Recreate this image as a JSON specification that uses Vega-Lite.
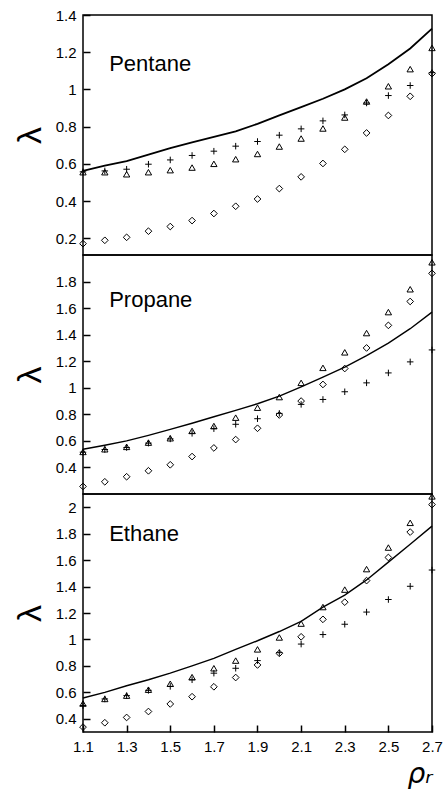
{
  "$schema": "https://vega.github.io/schema/vega-lite/v6.json",
  "autosize": {"type": "pad"},
  "padding": {"left": 12, "top": 7, "right": 0, "bottom": 0},
  "background": "white",
  "spacing": 0,
  "bounds": "flush",
  "config": {
    "view": {"stroke": "black", "strokeWidth": 1.5},
    "axis": {"domain": false, "grid": false, "ticks": true, "zindex": 2, "offset": -7, "tickColor": "#000000", "tickOpacity": 1, "tickSize": 7, "tickWidth": 1.5, "labelColor": "black", "labelFontSize": 15, "labelFont": "Liberation Sans", "labelPadding": 7, "labelFlush": false, "labelOverlap": false, "labelSeparation": 0, "titleColor": "black", "titleFont": "Liberation Sans", "titleFontWeight": "normal"},
    "axisY": {"titleFontSize": 34, "titlePadding": 8},
    "axisX": {"titleFontSize": 28, "titleFont": "DejaVu Sans", "titleFontStyle": "italic", "titleAnchor": "end", "titlePadding": 6}
  },
  "datasets": {
    "pentane": [
      {"series": "triangle", "rho": 1.1, "lambda": 0.555}, {"series": "triangle", "rho": 1.2, "lambda": 0.555}, {"series": "triangle", "rho": 1.3, "lambda": 0.544}, {"series": "triangle", "rho": 1.4, "lambda": 0.555}, {"series": "triangle", "rho": 1.5, "lambda": 0.566}, {"series": "triangle", "rho": 1.6, "lambda": 0.58}, {"series": "triangle", "rho": 1.7, "lambda": 0.6}, {"series": "triangle", "rho": 1.8, "lambda": 0.625}, {"series": "triangle", "rho": 1.9, "lambda": 0.653}, {"series": "triangle", "rho": 2.0, "lambda": 0.693}, {"series": "triangle", "rho": 2.1, "lambda": 0.736}, {"series": "triangle", "rho": 2.2, "lambda": 0.79}, {"series": "triangle", "rho": 2.3, "lambda": 0.849}, {"series": "triangle", "rho": 2.4, "lambda": 0.935}, {"series": "triangle", "rho": 2.5, "lambda": 1.017}, {"series": "triangle", "rho": 2.6, "lambda": 1.109}, {"series": "triangle", "rho": 2.7, "lambda": 1.223},
      {"series": "plus", "rho": 1.1, "lambda": 0.557}, {"series": "plus", "rho": 1.2, "lambda": 0.562}, {"series": "plus", "rho": 1.3, "lambda": 0.571}, {"series": "plus", "rho": 1.4, "lambda": 0.598}, {"series": "plus", "rho": 1.5, "lambda": 0.621}, {"series": "plus", "rho": 1.6, "lambda": 0.645}, {"series": "plus", "rho": 1.7, "lambda": 0.668}, {"series": "plus", "rho": 1.8, "lambda": 0.695}, {"series": "plus", "rho": 1.9, "lambda": 0.72}, {"series": "plus", "rho": 2.0, "lambda": 0.754}, {"series": "plus", "rho": 2.1, "lambda": 0.788}, {"series": "plus", "rho": 2.2, "lambda": 0.831}, {"series": "plus", "rho": 2.3, "lambda": 0.863}, {"series": "plus", "rho": 2.4, "lambda": 0.927}, {"series": "plus", "rho": 2.5, "lambda": 0.967}, {"series": "plus", "rho": 2.6, "lambda": 1.021}, {"series": "plus", "rho": 2.7, "lambda": 1.09},
      {"series": "diamond", "rho": 1.1, "lambda": 0.171}, {"series": "diamond", "rho": 1.2, "lambda": 0.189}, {"series": "diamond", "rho": 1.3, "lambda": 0.205}, {"series": "diamond", "rho": 1.4, "lambda": 0.238}, {"series": "diamond", "rho": 1.5, "lambda": 0.263}, {"series": "diamond", "rho": 1.6, "lambda": 0.295}, {"series": "diamond", "rho": 1.7, "lambda": 0.333}, {"series": "diamond", "rho": 1.8, "lambda": 0.372}, {"series": "diamond", "rho": 1.9, "lambda": 0.411}, {"series": "diamond", "rho": 2.0, "lambda": 0.467}, {"series": "diamond", "rho": 2.1, "lambda": 0.53}, {"series": "diamond", "rho": 2.2, "lambda": 0.602}, {"series": "diamond", "rho": 2.3, "lambda": 0.678}, {"series": "diamond", "rho": 2.4, "lambda": 0.766}, {"series": "diamond", "rho": 2.5, "lambda": 0.86}, {"series": "diamond", "rho": 2.6, "lambda": 0.963}, {"series": "diamond", "rho": 2.7, "lambda": 1.085},
      {"series": "line", "rho": 1.1, "lambda": 0.562}, {"series": "line", "rho": 1.2, "lambda": 0.59}, {"series": "line", "rho": 1.3, "lambda": 0.615}, {"series": "line", "rho": 1.4, "lambda": 0.65}, {"series": "line", "rho": 1.5, "lambda": 0.685}, {"series": "line", "rho": 1.6, "lambda": 0.715}, {"series": "line", "rho": 1.7, "lambda": 0.745}, {"series": "line", "rho": 1.8, "lambda": 0.775}, {"series": "line", "rho": 1.9, "lambda": 0.815}, {"series": "line", "rho": 2.0, "lambda": 0.86}, {"series": "line", "rho": 2.1, "lambda": 0.905}, {"series": "line", "rho": 2.2, "lambda": 0.95}, {"series": "line", "rho": 2.3, "lambda": 1.0}, {"series": "line", "rho": 2.4, "lambda": 1.06}, {"series": "line", "rho": 2.5, "lambda": 1.135}, {"series": "line", "rho": 2.6, "lambda": 1.22}, {"series": "line", "rho": 2.7, "lambda": 1.327}
    ],
    "propane": [
      {"series": "triangle", "rho": 1.1, "lambda": 0.517}, {"series": "triangle", "rho": 1.2, "lambda": 0.537}, {"series": "triangle", "rho": 1.3, "lambda": 0.555}, {"series": "triangle", "rho": 1.4, "lambda": 0.587}, {"series": "triangle", "rho": 1.5, "lambda": 0.62}, {"series": "triangle", "rho": 1.6, "lambda": 0.675}, {"series": "triangle", "rho": 1.7, "lambda": 0.712}, {"series": "triangle", "rho": 1.8, "lambda": 0.775}, {"series": "triangle", "rho": 1.9, "lambda": 0.85}, {"series": "triangle", "rho": 2.0, "lambda": 0.93}, {"series": "triangle", "rho": 2.1, "lambda": 1.037}, {"series": "triangle", "rho": 2.2, "lambda": 1.15}, {"series": "triangle", "rho": 2.3, "lambda": 1.267}, {"series": "triangle", "rho": 2.4, "lambda": 1.412}, {"series": "triangle", "rho": 2.5, "lambda": 1.57}, {"series": "triangle", "rho": 2.6, "lambda": 1.742}, {"series": "triangle", "rho": 2.7, "lambda": 1.945},
      {"series": "plus", "rho": 1.1, "lambda": 0.515}, {"series": "plus", "rho": 1.2, "lambda": 0.535}, {"series": "plus", "rho": 1.3, "lambda": 0.55}, {"series": "plus", "rho": 1.4, "lambda": 0.583}, {"series": "plus", "rho": 1.5, "lambda": 0.615}, {"series": "plus", "rho": 1.6, "lambda": 0.657}, {"series": "plus", "rho": 1.7, "lambda": 0.692}, {"series": "plus", "rho": 1.8, "lambda": 0.725}, {"series": "plus", "rho": 1.9, "lambda": 0.767}, {"series": "plus", "rho": 2.0, "lambda": 0.807}, {"series": "plus", "rho": 2.1, "lambda": 0.875}, {"series": "plus", "rho": 2.2, "lambda": 0.912}, {"series": "plus", "rho": 2.3, "lambda": 0.97}, {"series": "plus", "rho": 2.4, "lambda": 1.037}, {"series": "plus", "rho": 2.5, "lambda": 1.112}, {"series": "plus", "rho": 2.6, "lambda": 1.195}, {"series": "plus", "rho": 2.7, "lambda": 1.285},
      {"series": "diamond", "rho": 1.1, "lambda": 0.257}, {"series": "diamond", "rho": 1.2, "lambda": 0.292}, {"series": "diamond", "rho": 1.3, "lambda": 0.33}, {"series": "diamond", "rho": 1.4, "lambda": 0.375}, {"series": "diamond", "rho": 1.5, "lambda": 0.42}, {"series": "diamond", "rho": 1.6, "lambda": 0.482}, {"series": "diamond", "rho": 1.7, "lambda": 0.547}, {"series": "diamond", "rho": 1.8, "lambda": 0.61}, {"series": "diamond", "rho": 1.9, "lambda": 0.695}, {"series": "diamond", "rho": 2.0, "lambda": 0.795}, {"series": "diamond", "rho": 2.1, "lambda": 0.9}, {"series": "diamond", "rho": 2.2, "lambda": 1.025}, {"series": "diamond", "rho": 2.3, "lambda": 1.145}, {"series": "diamond", "rho": 2.4, "lambda": 1.3}, {"series": "diamond", "rho": 2.5, "lambda": 1.47}, {"series": "diamond", "rho": 2.6, "lambda": 1.65}, {"series": "diamond", "rho": 2.7, "lambda": 1.862},
      {"series": "line", "rho": 1.1, "lambda": 0.537}, {"series": "line", "rho": 1.2, "lambda": 0.567}, {"series": "line", "rho": 1.3, "lambda": 0.6}, {"series": "line", "rho": 1.4, "lambda": 0.642}, {"series": "line", "rho": 1.5, "lambda": 0.687}, {"series": "line", "rho": 1.6, "lambda": 0.733}, {"series": "line", "rho": 1.7, "lambda": 0.782}, {"series": "line", "rho": 1.8, "lambda": 0.83}, {"series": "line", "rho": 1.9, "lambda": 0.88}, {"series": "line", "rho": 2.0, "lambda": 0.937}, {"series": "line", "rho": 2.1, "lambda": 1.007}, {"series": "line", "rho": 2.2, "lambda": 1.08}, {"series": "line", "rho": 2.3, "lambda": 1.155}, {"series": "line", "rho": 2.4, "lambda": 1.242}, {"series": "line", "rho": 2.5, "lambda": 1.337}, {"series": "line", "rho": 2.6, "lambda": 1.445}, {"series": "line", "rho": 2.7, "lambda": 1.57}
    ],
    "ethane": [
      {"series": "triangle", "rho": 1.1, "lambda": 0.515}, {"series": "triangle", "rho": 1.2, "lambda": 0.55}, {"series": "triangle", "rho": 1.3, "lambda": 0.575}, {"series": "triangle", "rho": 1.4, "lambda": 0.62}, {"series": "triangle", "rho": 1.5, "lambda": 0.665}, {"series": "triangle", "rho": 1.6, "lambda": 0.715}, {"series": "triangle", "rho": 1.7, "lambda": 0.782}, {"series": "triangle", "rho": 1.8, "lambda": 0.84}, {"series": "triangle", "rho": 1.9, "lambda": 0.925}, {"series": "triangle", "rho": 2.0, "lambda": 1.015}, {"series": "triangle", "rho": 2.1, "lambda": 1.12}, {"series": "triangle", "rho": 2.2, "lambda": 1.245}, {"series": "triangle", "rho": 2.3, "lambda": 1.377}, {"series": "triangle", "rho": 2.4, "lambda": 1.532}, {"series": "triangle", "rho": 2.5, "lambda": 1.695}, {"series": "triangle", "rho": 2.6, "lambda": 1.882}, {"series": "triangle", "rho": 2.7, "lambda": 2.082},
      {"series": "plus", "rho": 1.1, "lambda": 0.5}, {"series": "plus", "rho": 1.2, "lambda": 0.55}, {"series": "plus", "rho": 1.3, "lambda": 0.575}, {"series": "plus", "rho": 1.4, "lambda": 0.615}, {"series": "plus", "rho": 1.5, "lambda": 0.645}, {"series": "plus", "rho": 1.6, "lambda": 0.695}, {"series": "plus", "rho": 1.7, "lambda": 0.745}, {"series": "plus", "rho": 1.8, "lambda": 0.782}, {"series": "plus", "rho": 1.9, "lambda": 0.84}, {"series": "plus", "rho": 2.0, "lambda": 0.9}, {"series": "plus", "rho": 2.1, "lambda": 0.965}, {"series": "plus", "rho": 2.2, "lambda": 1.037}, {"series": "plus", "rho": 2.3, "lambda": 1.115}, {"series": "plus", "rho": 2.4, "lambda": 1.207}, {"series": "plus", "rho": 2.5, "lambda": 1.302}, {"series": "plus", "rho": 2.6, "lambda": 1.402}, {"series": "plus", "rho": 2.7, "lambda": 1.525},
      {"series": "diamond", "rho": 1.1, "lambda": 0.337}, {"series": "diamond", "rho": 1.2, "lambda": 0.37}, {"series": "diamond", "rho": 1.3, "lambda": 0.41}, {"series": "diamond", "rho": 1.4, "lambda": 0.455}, {"series": "diamond", "rho": 1.5, "lambda": 0.512}, {"series": "diamond", "rho": 1.6, "lambda": 0.567}, {"series": "diamond", "rho": 1.7, "lambda": 0.642}, {"series": "diamond", "rho": 1.8, "lambda": 0.712}, {"series": "diamond", "rho": 1.9, "lambda": 0.807}, {"series": "diamond", "rho": 2.0, "lambda": 0.895}, {"series": "diamond", "rho": 2.1, "lambda": 1.02}, {"series": "diamond", "rho": 2.2, "lambda": 1.152}, {"series": "diamond", "rho": 2.3, "lambda": 1.282}, {"series": "diamond", "rho": 2.4, "lambda": 1.445}, {"series": "diamond", "rho": 2.5, "lambda": 1.62}, {"series": "diamond", "rho": 2.6, "lambda": 1.812}, {"series": "diamond", "rho": 2.7, "lambda": 2.02},
      {"series": "line", "rho": 1.1, "lambda": 0.557}, {"series": "line", "rho": 1.2, "lambda": 0.6}, {"series": "line", "rho": 1.3, "lambda": 0.65}, {"series": "line", "rho": 1.4, "lambda": 0.695}, {"series": "line", "rho": 1.5, "lambda": 0.745}, {"series": "line", "rho": 1.6, "lambda": 0.8}, {"series": "line", "rho": 1.7, "lambda": 0.857}, {"series": "line", "rho": 1.8, "lambda": 0.925}, {"series": "line", "rho": 1.9, "lambda": 0.99}, {"series": "line", "rho": 2.0, "lambda": 1.06}, {"series": "line", "rho": 2.1, "lambda": 1.137}, {"series": "line", "rho": 2.2, "lambda": 1.245}, {"series": "line", "rho": 2.3, "lambda": 1.335}, {"series": "line", "rho": 2.4, "lambda": 1.45}, {"series": "line", "rho": 2.5, "lambda": 1.585}, {"series": "line", "rho": 2.6, "lambda": 1.72}, {"series": "line", "rho": 2.7, "lambda": 1.857}
    ]
  },
  "vconcat": [
    {
      "width": 349, "height": 240,
      "data": {"name": "pentane"},
      "layer": [
        {"transform": [{"filter": "datum.series === 'line'"}], "mark": {"type": "line", "color": "black", "strokeWidth": 1.8},
         "encoding": {"x": {"field": "rho", "type": "quantitative", "scale": {"domain": [1.1, 2.7], "nice": false, "zero": false}, "axis": null},
                      "y": {"field": "lambda", "type": "quantitative", "scale": {"domain": [0.11, 1.4], "nice": false, "zero": false}, "axis": {"values": [0.2, 0.4, 0.6, 0.8, 1, 1.2, 1.4], "format": "~f", "title": "λ", "ticks": true, "labelOverlap": false, "labelSeparation": 0, "tickCount": 7}}}},
        {"transform": [{"filter": "datum.series !== 'line'"}], "mark": {"type": "point", "color": "black", "filled": false, "strokeWidth": 1, "opacity": 1},
         "encoding": {"x": {"field": "rho", "type": "quantitative"}, "y": {"field": "lambda", "type": "quantitative"},
                      "shape": {"field": "series", "type": "nominal", "scale": {"domain": ["triangle", "plus", "diamond"], "range": ["triangle-up", "M-1,0H1M0,-1V1", "diamond"]}, "legend": null},
                      "size": {"field": "series", "type": "nominal", "scale": {"domain": ["triangle", "plus", "diamond"], "range": [40, 45, 28]}, "legend": null}}},
        {"data": {"values": [{"label": "Pentane"}]}, "mark": {"type": "text", "align": "left", "baseline": "alphabetic", "fontSize": 22, "font": "Liberation Sans", "color": "black"},
         "encoding": {"x": {"datum": 1.22}, "y": {"datum": 1.1}, "text": {"field": "label"}}}
      ]
    },
    {
      "width": 349, "height": 239,
      "data": {"name": "propane"},
      "layer": [
        {"transform": [{"filter": "datum.series === 'line'"}], "mark": {"type": "line", "color": "black", "strokeWidth": 1.4},
         "encoding": {"x": {"field": "rho", "type": "quantitative", "scale": {"domain": [1.1, 2.7], "nice": false, "zero": false}, "axis": null},
                      "y": {"field": "lambda", "type": "quantitative", "scale": {"domain": [0.2, 2.0], "nice": false, "zero": false}, "axis": {"values": [0.4, 0.6, 0.8, 1, 1.2, 1.4, 1.6, 1.8], "format": "~f", "title": "λ", "ticks": true, "labelOverlap": false, "labelSeparation": 0, "tickCount": 8}}}},
        {"transform": [{"filter": "datum.series !== 'line'"}], "mark": {"type": "point", "color": "black", "filled": false, "strokeWidth": 1, "opacity": 1},
         "encoding": {"x": {"field": "rho", "type": "quantitative"}, "y": {"field": "lambda", "type": "quantitative"},
                      "shape": {"field": "series", "type": "nominal", "scale": {"domain": ["triangle", "plus", "diamond"], "range": ["triangle-up", "M-1,0H1M0,-1V1", "diamond"]}, "legend": null},
                      "size": {"field": "series", "type": "nominal", "scale": {"domain": ["triangle", "plus", "diamond"], "range": [40, 45, 28]}, "legend": null}}},
        {"data": {"values": [{"label": "Propane"}]}, "mark": {"type": "text", "align": "left", "baseline": "alphabetic", "fontSize": 22, "font": "Liberation Sans", "color": "black"},
         "encoding": {"x": {"datum": 1.22}, "y": {"datum": 1.612}, "text": {"field": "label"}}}
      ]
    },
    {
      "width": 349, "height": 238,
      "data": {"name": "ethane"},
      "layer": [
        {"transform": [{"filter": "datum.series === 'line'"}], "mark": {"type": "line", "color": "black", "strokeWidth": 1.4},
         "encoding": {"x": {"field": "rho", "type": "quantitative", "scale": {"domain": [1.1, 2.7], "nice": false, "zero": false}, "axis": {"values": [1.1, 1.3, 1.5, 1.7, 1.9, 2.1, 2.3, 2.5, 2.7], "format": "~f", "title": "ρᵣ", "ticks": true, "labelOverlap": false}},
                      "y": {"field": "lambda", "type": "quantitative", "scale": {"domain": [0.3, 2.1], "nice": false, "zero": false}, "axis": {"values": [0.4, 0.6, 0.8, 1, 1.2, 1.4, 1.6, 1.8, 2], "format": "~f", "title": "λ", "ticks": true, "labelOverlap": false, "labelSeparation": 0, "tickCount": 9}}}},
        {"transform": [{"filter": "datum.series !== 'line'"}], "mark": {"type": "point", "color": "black", "filled": false, "strokeWidth": 1, "opacity": 1},
         "encoding": {"x": {"field": "rho", "type": "quantitative"}, "y": {"field": "lambda", "type": "quantitative"},
                      "shape": {"field": "series", "type": "nominal", "scale": {"domain": ["triangle", "plus", "diamond"], "range": ["triangle-up", "M-1,0H1M0,-1V1", "diamond"]}, "legend": null},
                      "size": {"field": "series", "type": "nominal", "scale": {"domain": ["triangle", "plus", "diamond"], "range": [40, 45, 28]}, "legend": null}}},
        {"data": {"values": [{"label": "Ethane"}]}, "mark": {"type": "text", "align": "left", "baseline": "alphabetic", "fontSize": 22, "font": "Liberation Sans", "color": "black"},
         "encoding": {"x": {"datum": 1.22}, "y": {"datum": 1.745}, "text": {"field": "label"}}}
      ]
    }
  ]
}
